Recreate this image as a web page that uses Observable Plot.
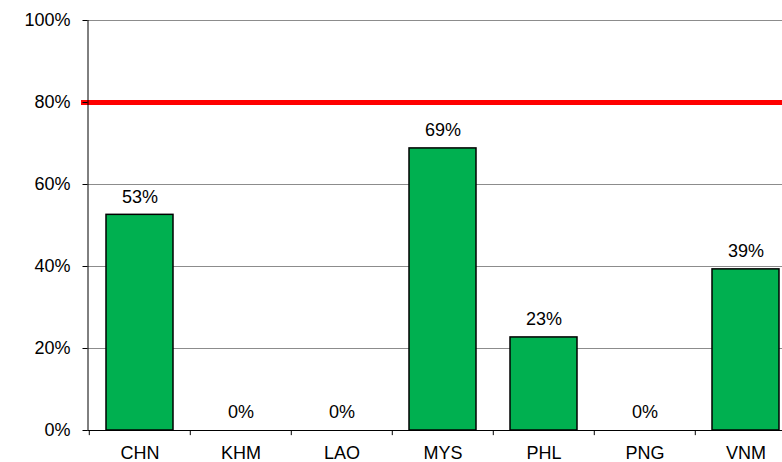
<!DOCTYPE html>
<html>
<head>
<meta charset="utf-8">
<script src="https://cdn.jsdelivr.net/npm/d3@7"></script>
<script src="https://cdn.jsdelivr.net/npm/@observablehq/plot@0.6"></script>
<style>
  html, body { margin: 0; padding: 0; background: #fff; }
  svg { display: block; }
</style>
</head>
<body>
<div id="chart"></div>
<script>
const categories = ["CHN", "KHM", "LAO", "MYS", "PHL", "PNG", "VNM"];
const values = [52.6, 0, 0, 68.8, 22.7, 0, 39.3];
const valueLabels = ["53%", "0%", "0%", "69%", "23%", "0%", "39%"];
const target = 80;
const yTicks = [0, 20, 40, 60, 80, 100];

const data = categories.map((c, i) => ({cat: c, value: values[i], label: valueLabels[i]}));

const font = "'Liberation Sans', Arial, sans-serif";
const plot = Plot.plot({
  width: 782,
  height: 462,
  marginLeft: 87.5,
  marginRight: 0,
  marginTop: 20,
  marginBottom: 32,
  style: {fontFamily: font, fontSize: "18px", color: "#000", background: "#fff", overflow: "visible"},
  x: {domain: categories, range: [87.5, 797.5], paddingInner: 0.34, paddingOuter: 0.17, align: 0.5},
  y: {domain: [0, 100], range: [430, 20]},
  marks: [
    Plot.ruleY(yTicks.slice(1), {stroke: "#8c8c8c", strokeWidth: 1}),
    Plot.barY(data, {x: "cat", y: "value", fill: "#00B050", stroke: "#000", strokeWidth: 1.5}),
    Plot.ruleY([target], {stroke: "#FF0000", strokeWidth: 5, insetLeft: -6.5}),
    Plot.frame({anchor: "left", stroke: "#000", strokeWidth: 1}),
    Plot.frame({anchor: "bottom", stroke: "#000", strokeWidth: 1}),
    Plot.ruleX(categories, {x: d => d, dx: -710 / 14, y1: 0, y2: -1.25, stroke: "#000", strokeWidth: 1}),
    Plot.axisY(yTicks, {tickSize: 5, tickPadding: 12.5, tickFormat: d => d + "%", fontSize: 18, label: null, stroke: "#000", strokeOpacity: 1, fill: "#000"}),
    Plot.axisX({tickSize: 0, tickPadding: 16, fontSize: 18, label: null, fill: "#000"}),
    Plot.text(data, {x: "cat", y: "value", text: "label", dy: -18, fontSize: 18, fill: "#000"})
  ]
});
document.getElementById("chart").appendChild(plot);
</script>
</body>
</html>
